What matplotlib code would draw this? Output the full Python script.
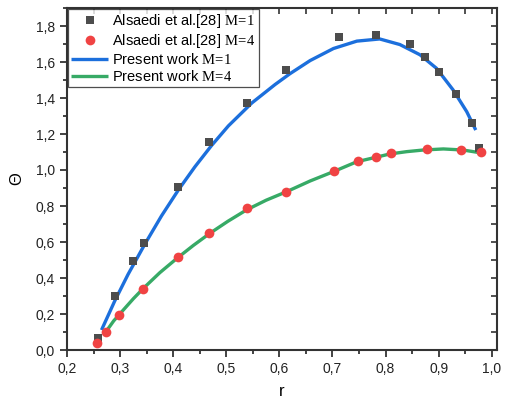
import numpy as np
import matplotlib
matplotlib.use("Agg")
from matplotlib import pyplot as plt
from matplotlib.ticker import MultipleLocator, FuncFormatter

plt.rcParams['font.family'] = ['Liberation Sans', 'DejaVu Sans']
plt.rcParams['mathtext.fontset'] = 'custom'
plt.rcParams['mathtext.rm'] = 'Liberation Serif'

# Alsaedi et al. [28] reference points
r_ref1 = [0.259, 0.290, 0.325, 0.345, 0.409, 0.467, 0.539, 0.613, 0.712, 0.783,
          0.846, 0.875, 0.901, 0.932, 0.963, 0.976]
theta_ref1 = [0.065, 0.300, 0.494, 0.596, 0.906, 1.156, 1.374, 1.557, 1.737, 1.750,
              1.698, 1.626, 1.546, 1.424, 1.263, 1.124]

r_ref4 = [0.257, 0.273, 0.298, 0.344, 0.410, 0.468, 0.540, 0.612, 0.703, 0.749,
          0.783, 0.810, 0.879, 0.943, 0.979]
theta_ref4 = [0.037, 0.098, 0.196, 0.341, 0.518, 0.652, 0.787, 0.880, 0.996, 1.052,
              1.074, 1.093, 1.117, 1.113, 1.100]

# present work curves
r_pw1 = [0.265, 0.280, 0.290, 0.315, 0.347, 0.378, 0.410, 0.441, 0.472, 0.504, 0.548,
         0.592, 0.620, 0.658, 0.702, 0.746, 0.789, 0.827, 0.865, 0.896, 0.927, 0.953,
         0.970]
theta_pw1 = [0.111, 0.208, 0.273, 0.420, 0.590, 0.745, 0.890, 1.018, 1.135, 1.245, 1.372,
             1.475, 1.535, 1.608, 1.675, 1.716, 1.728, 1.697, 1.640, 1.565, 1.446, 1.324,
             1.222]

r_pw4 = [0.272, 0.288, 0.306, 0.325, 0.344, 0.375, 0.407, 0.438, 0.469, 0.503, 0.538,
         0.575, 0.614, 0.658, 0.702, 0.746, 0.778, 0.808, 0.840, 0.871, 0.909, 0.946,
         0.978]
theta_pw4 = [0.096, 0.162, 0.222, 0.285, 0.343, 0.430, 0.509, 0.581, 0.648, 0.715, 0.778,
             0.832, 0.880, 0.939, 0.991, 1.046, 1.068, 1.089, 1.102, 1.111, 1.117, 1.111,
             1.096]

labels = [r"Alsaedi et al.[28] $\mathrm{M\!=\!1}$",
          r"Alsaedi et al.[28] $\mathrm{M\!=\!4}$",
          r"Present work $\mathrm{M\!=\!1}$",
          r"Present work $\mathrm{M\!=\!4}$"]

fig = plt.figure(figsize=(5.05, 4.03), dpi=100)
ax = fig.add_axes([67 / 505, 53 / 403, 430 / 505, 342 / 403])

ax.plot(r_pw1, theta_pw1, color='#1c6fdc', lw=2.4, solid_capstyle='butt', label=labels[2], zorder=2)
ax.plot(r_pw4, theta_pw4, color='#37aa66', lw=2.4, solid_capstyle='butt', label=labels[3], zorder=2)
ax.plot(r_ref1, theta_ref1, 's', color='#4d4d4d', ms=6, mew=0, label=labels[0], zorder=3)
ax.plot(r_ref4, theta_ref4, 'o', color='#f04343', ms=7, mew=0, label=labels[1], zorder=3)

ax.set_xlim(0.2, 1.01)
ax.set_ylim(0.0, 1.9)

ax.xaxis.set_major_locator(MultipleLocator(0.1))
ax.xaxis.set_minor_locator(MultipleLocator(0.05))
ax.yaxis.set_major_locator(MultipleLocator(0.2))
ax.yaxis.set_minor_locator(MultipleLocator(0.1))
comma = FuncFormatter(lambda v, p: ("%.1f" % v).replace(".", ","))
ax.xaxis.set_major_formatter(comma)
ax.yaxis.set_major_formatter(comma)

ax.tick_params(which='both', direction='out', labelsize=10, colors='#222222', width=1.2)
ax.tick_params(which='major', length=5)
ax.tick_params(which='minor', length=3)
for s in ax.spines.values():
    s.set_linewidth(1.5)
    s.set_color('#333333')

# mirrored ticks on top and right, pointing inward
top = ax.secondary_xaxis('top')
top.xaxis.set_major_locator(MultipleLocator(0.05))
top.tick_params(direction='in', length=4, width=1.2, labeltop=False, colors='#333333')
top.spines['top'].set_visible(False)
right = ax.secondary_yaxis('right')
right.yaxis.set_major_locator(MultipleLocator(0.1))
right.tick_params(direction='in', length=4, width=1.2, labelright=False, colors='#333333')
right.spines['right'].set_visible(False)

ax.set_xlabel("r", fontsize=12, labelpad=6)
ax.set_ylabel("Θ", fontsize=12, labelpad=8)

handles, labs = ax.get_legend_handles_labels()
order = [2, 3, 0, 1]
leg = ax.legend([handles[i] for i in order], [labs[i] for i in order],
                loc='upper left', fontsize=10.5, frameon=True, fancybox=False,
                borderaxespad=0.1, handlelength=2.5, handletextpad=0.3,
                labelspacing=0.12, borderpad=0.2, edgecolor='#222222')
leg.get_frame().set_linewidth(0.9)

fig.savefig("out.png", dpi=100)
